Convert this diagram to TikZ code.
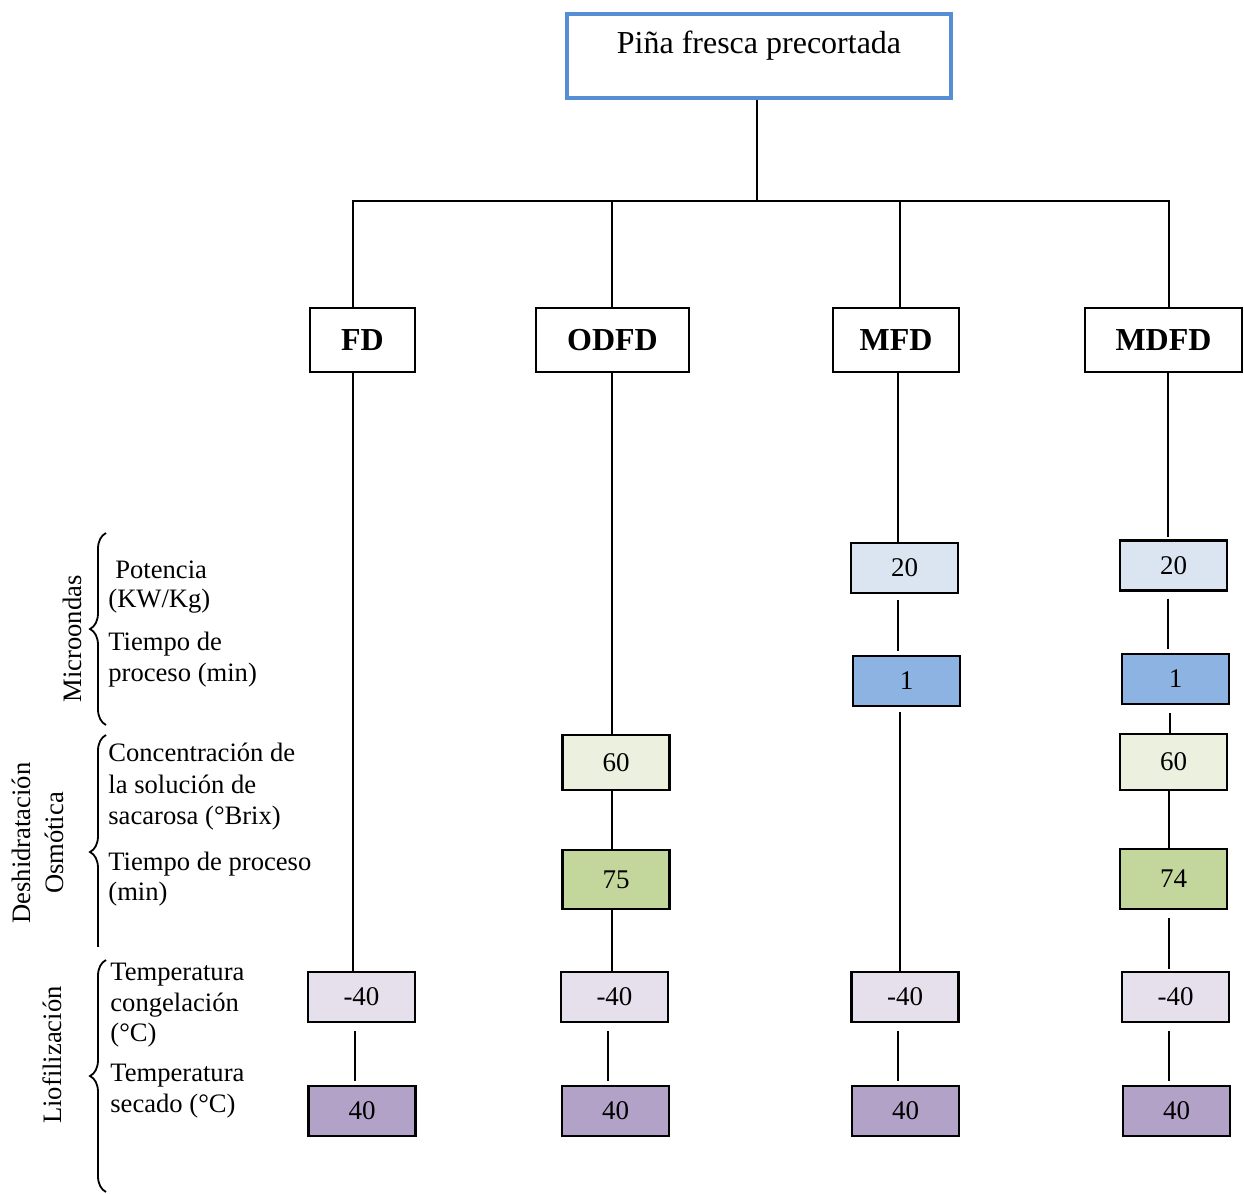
\documentclass[tikz,border=0pt]{standalone}
\usepackage{fontspec}
\setmainfont{Liberation Serif}
\usetikzlibrary{decorations.pathreplacing}
\definecolor{topblue}{HTML}{558ED5}
\definecolor{powfill}{HTML}{DBE5F1}
\definecolor{timefill}{HTML}{8DB3E2}
\definecolor{concfill}{HTML}{EBF1DE}
\definecolor{odtfill}{HTML}{C3D69B}
\definecolor{frzfill}{HTML}{E5E0EC}
\definecolor{dryfill}{HTML}{B2A2C7}
\begin{document}
\begin{tikzpicture}[x=0.5pt,y=-0.5pt,
  every node/.style={inner sep=0pt},
  txt/.style={font=\fontsize{13.3}{15.5}\selectfont},
  head/.style={draw,line width=1pt,minimum height=32pt,font=\fontsize{16}{19}\selectfont\bfseries},
  val/.style={draw,line width=1.2pt,font=\fontsize{13.5}{15.5}\selectfont,minimum width=53.5pt,minimum height=25pt},
  link/.style={line width=1pt},
  grp/.style={decorate,decoration={brace,amplitude=8pt,aspect=#1},line width=0.9pt},
]
\useasboundingbox (0,0) rectangle (1244,1194);

% root
\node[draw=topblue,line width=2pt,minimum width=192pt,text height=20pt,text depth=22pt,
      font=\fontsize{16}{19}\selectfont] (top) at (759,56) {Piña fresca precortada};

% process heads
\node[head,minimum width=52.5pt] (fd)   at (362.5,340) {FD};
\node[head,minimum width=76.5pt] (odfd) at (612.5,340) {ODFD};
\node[head,minimum width=63pt]   (mfd)  at (896,340)   {MFD};
\node[head,minimum width=78.5pt] (mdfd) at (1163.5,340) {MDFD};

% tree
\coordinate (bus) at (757,201);
\draw[link] (top.south -| bus) -- (bus);
\draw[link] (fd.north -| 353,0) |- (bus) -| (mdfd.north -| 1169,0);
\draw[link] (odfd.north -| 612,0) -- (612,201);
\draw[link] (mfd.north -| 900,0) -- (900,201);

% FD column
\node[val,fill=frzfill] (fdf) at (361.5,997)  {-40};
\node[val,fill=dryfill] (fdd) at (362,1111)   {40};
\draw[link] (fd.south -| 353,0) -- (fdf.north -| 353,0);
\draw[link,shorten <=4pt,shorten >=2pt] (fdf.south -| 355,0) -- (fdd.north -| 355,0);

% ODFD column
\node[val,fill=concfill,minimum height=27.5pt] (od60) at (616,762.5) {60};
\node[val,fill=odtfill,minimum height=29.5pt]  (od75) at (616,879.5) {75};
\node[val,fill=frzfill] (odf) at (614.5,997)  {-40};
\node[val,fill=dryfill] (odd) at (615.5,1111) {40};
\draw[link] (odfd.south -| 612,0) -- (od60.north -| 612,0);
\draw[link] (od60.south -| 612,0) -- (od75.north -| 612,0);
\draw[link] (od75.south -| 612,0) -- (odf.north -| 612,0);
\draw[link,shorten <=4pt,shorten >=2pt] (odf.south -| 608,0) -- (odd.north -| 608,0);

% MFD column
\node[val,fill=powfill]  (mf20) at (904.5,568) {20};
\node[val,fill=timefill] (mf1)  at (906.5,681) {1};
\node[val,fill=frzfill]  (mff)  at (905,997)   {-40};
\node[val,fill=dryfill]  (mfd40) at (905.5,1111) {40};
\draw[link] (mfd.south -| 898,0) -- (mf20.north -| 898,0);
\draw[link,shorten <=3pt,shorten >=2pt] (mf20.south -| 898,0) -- (mf1.north -| 898,0);
\draw[link,shorten <=2.5pt] (mf1.south -| 900,0) -- (mff.north -| 900,0);
\draw[link,shorten <=4pt,shorten >=2pt] (mff.south -| 898,0) -- (mfd40.north -| 898,0);

% MDFD column
\node[val,fill=powfill]  (md20) at (1173.5,565.5) {20};
\node[val,fill=timefill] (md1)  at (1175.5,679)   {1};
\node[val,fill=concfill,minimum height=28pt] (md60) at (1173.5,762) {60};
\node[val,fill=odtfill,minimum height=30pt]  (md74) at (1173.5,879) {74};
\node[val,fill=frzfill]  (mdf)  at (1175.5,997)   {-40};
\node[val,fill=dryfill]  (mdd)  at (1176.5,1111)  {40};
\draw[link,shorten >=1pt] (mdfd.south -| 1168,0) -- (md20.north -| 1168,0);
\draw[link,shorten <=3.5pt,shorten >=2pt] (md20.south -| 1168,0) -- (md1.north -| 1168,0);
\draw[link,shorten <=4pt] (md1.south -| 1170,0) -- (md60.north -| 1170,0);
\draw[link] (md60.south -| 1169,0) -- (md74.north -| 1169,0);
\draw[link,shorten <=4pt,shorten >=1pt] (md74.south -| 1169,0) -- (mdf.north -| 1169,0);
\draw[link,shorten <=4pt,shorten >=2pt] (mdf.south -| 1169,0) -- (mdd.north -| 1169,0);

% stage labels
\node[txt,rotate=90] (mw) at (72,639) {Microondas};
\node[txt,rotate=90,align=center,font=\fontsize{13.3}{16.5}\selectfont] (osm) at (38,843) {Deshidratación\\Osmótica};
\node[txt,rotate=90] (lio) at (52,1055) {Liofilización};

% braces (the osmotic one is cut off straight at its lower end)
\draw[grp=0.5]   (106,725)  -- (106,533);
\begin{scope}
  \clip (80,728) rectangle (125,946);
  \draw[grp=0.48] (106,960) -- (106,735);
\end{scope}
\draw[grp=0.5]   (106,1192) -- (106,960);

% parameter labels
\node[txt,anchor=base west] (p1)  at (115,578)  {Potencia};
\node[txt,anchor=base west] (p2)  at (108,607)  {(KW/Kg)};
\node[txt,anchor=base west] (p3)  at (108,650)  {Tiempo de};
\node[txt,anchor=base west] (p4)  at (108,681)  {proceso (min)};
\node[txt,anchor=base west] (p5)  at (108,761)  {Concentración de};
\node[txt,anchor=base west] (p6)  at (108,793)  {la solución de};
\node[txt,anchor=base west] (p7)  at (108,824)  {sacarosa (°Brix)};
\node[txt,anchor=base west] (p8)  at (108,870)  {Tiempo de proceso};
\node[txt,anchor=base west] (p9)  at (108,900)  {(min)};
\node[txt,anchor=base west] (p10) at (110,980)  {Temperatura};
\node[txt,anchor=base west] (p11) at (110,1011) {congelación};
\node[txt,anchor=base west] (p12) at (110,1041) {(°C)};
\node[txt,anchor=base west] (p13) at (110,1081) {Temperatura};
\node[txt,anchor=base west] (p14) at (110,1112) {secado (°C)};
\end{tikzpicture}
\end{document}
